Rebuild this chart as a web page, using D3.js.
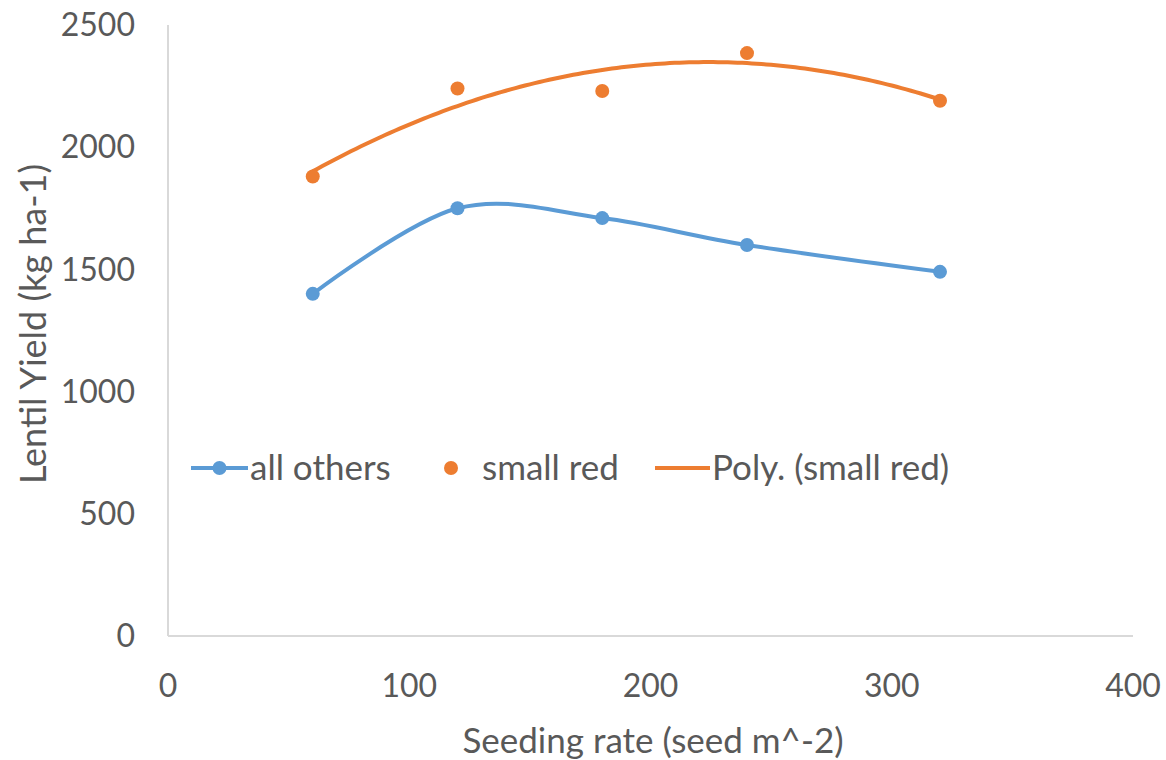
<!DOCTYPE html>
<html>
<head>
<meta charset="utf-8">
<script src="https://cdn.jsdelivr.net/npm/d3@7"></script>
<style>
  html, body { margin: 0; padding: 0; background: #fff; }
  svg text { font-family: Lato, "Open Sans", sans-serif; fill: #595959; }
</style>
</head>
<body>
<svg id="chart" width="1166" height="760"></svg>
<script>
// Seeding rate (seeds per m²)
const seedingRates = [60, 120, 180, 240, 320];
// Lentil yield (kg/ha) by seeding rate
const allOthers = [1400, 1750, 1710, 1600, 1490];
const smallRed  = [1880, 2240, 2230, 2385, 2190];

const xTicks = [0, 100, 200, 300, 400];
const yTicks = [0, 500, 1000, 1500, 2000, 2500];

const seriesNames = ["all others", "small red", "Poly. (small red)"];
const BLUE = "#5B9BD5", ORANGE = "#ED7D31", AXIS = "#D9D9D9";

const svg = d3.select("#chart");
const x = d3.scaleLinear().domain([0, 400]).range([168, 1133]);
const y = d3.scaleLinear().domain([0, 2500]).range([636, 25]);

// Axes lines
svg.append("line").attr("x1", x(0)).attr("x2", x(0)).attr("y1", y(0)).attr("y2", y(2500))
  .attr("stroke", AXIS).attr("stroke-width", 2);
svg.append("line").attr("x1", x(0)).attr("x2", x(400)).attr("y1", y(0)).attr("y2", y(0))
  .attr("stroke", AXIS).attr("stroke-width", 2);

// Tick labels
svg.selectAll(".ytick").data(yTicks).enter().append("text")
  .attr("x", 135).attr("y", d => y(d)).attr("dy", "0.35em")
  .attr("text-anchor", "end").attr("font-size", 32).text(d => d);
svg.selectAll(".xtick").data(xTicks).enter().append("text")
  .attr("x", d => x(d)).attr("y", 686).attr("dy", "0.35em")
  .attr("text-anchor", "middle").attr("font-size", 32).text(d => d);

// Axis titles
svg.append("text").attr("x", 653).attr("y", 741).attr("dy", "0.35em")
  .attr("text-anchor", "middle").attr("font-size", 35).text("Seeding rate (seed m^-2)");
svg.append("text").attr("transform", "translate(33, 324) rotate(-90)")
  .attr("dy", "0.35em").attr("text-anchor", "middle").attr("font-size", 36)
  .text("Lentil Yield (kg ha-1)");

// Quadratic least-squares trend for the small red series
function polyFit2(xs, ys) {
  const n = xs.length;
  let s = [0, 0, 0, 0, 0], t = [0, 0, 0];
  for (let i = 0; i < n; i++) {
    for (let k = 0; k < 5; k++) s[k] += Math.pow(xs[i], k);
    for (let k = 0; k < 3; k++) t[k] += ys[i] * Math.pow(xs[i], k);
  }
  const A = [[s[0], s[1], s[2], t[0]], [s[1], s[2], s[3], t[1]], [s[2], s[3], s[4], t[2]]];
  for (let c = 0; c < 3; c++) {
    for (let r = c + 1; r < 3; r++) {
      const f = A[r][c] / A[c][c];
      for (let k = c; k < 4; k++) A[r][k] -= f * A[c][k];
    }
  }
  const b = [0, 0, 0];
  for (let r = 2; r >= 0; r--) {
    let v = A[r][3];
    for (let k = r + 1; k < 3; k++) v -= A[r][k] * b[k];
    b[r] = v / A[r][r];
  }
  return xv => b[0] + b[1] * xv + b[2] * xv * xv;
}
const trend = polyFit2(seedingRates, smallRed);
const trendXs = d3.range(seedingRates[0], seedingRates[seedingRates.length - 1] + 0.5, 2);

svg.append("path")
  .attr("d", d3.line().x(d => x(d)).y(d => y(trend(d)))(trendXs))
  .attr("fill", "none").attr("stroke", ORANGE).attr("stroke-width", 4).attr("stroke-linecap", "round");

// all others: smoothed line with markers
const othersPts = seedingRates.map((s, i) => [s, allOthers[i]]);
svg.append("path")
  .attr("d", d3.line().x(d => x(d[0])).y(d => y(d[1])).curve(d3.curveCardinal.tension(0))(othersPts))
  .attr("fill", "none").attr("stroke", BLUE).attr("stroke-width", 4).attr("stroke-linecap", "round");
svg.selectAll(".mo").data(othersPts).enter().append("circle")
  .attr("cx", d => x(d[0])).attr("cy", d => y(d[1])).attr("r", 7).attr("fill", BLUE);

// small red: markers only
svg.selectAll(".mr").data(seedingRates.map((s, i) => [s, smallRed[i]])).enter().append("circle")
  .attr("cx", d => x(d[0])).attr("cy", d => y(d[1])).attr("r", 7).attr("fill", ORANGE);

// Legend
const lg = svg.append("g");
lg.append("line").attr("x1", 191).attr("x2", 248).attr("y1", 468).attr("y2", 468)
  .attr("stroke", BLUE).attr("stroke-width", 4);
lg.append("circle").attr("cx", 219.5).attr("cy", 468).attr("r", 7).attr("fill", BLUE);
lg.append("text").attr("x", 250).attr("y", 468).attr("dy", "0.35em").attr("font-size", 35).text(seriesNames[0]);
lg.append("circle").attr("cx", 451).attr("cy", 468).attr("r", 7).attr("fill", ORANGE);
lg.append("text").attr("x", 482).attr("y", 468).attr("dy", "0.35em").attr("font-size", 35).text(seriesNames[1]);
lg.append("line").attr("x1", 655).attr("x2", 710).attr("y1", 468).attr("y2", 468)
  .attr("stroke", ORANGE).attr("stroke-width", 4);
lg.append("text").attr("x", 712).attr("y", 468).attr("dy", "0.35em").attr("font-size", 35).text(seriesNames[2]);
</script>
</body>
</html>
